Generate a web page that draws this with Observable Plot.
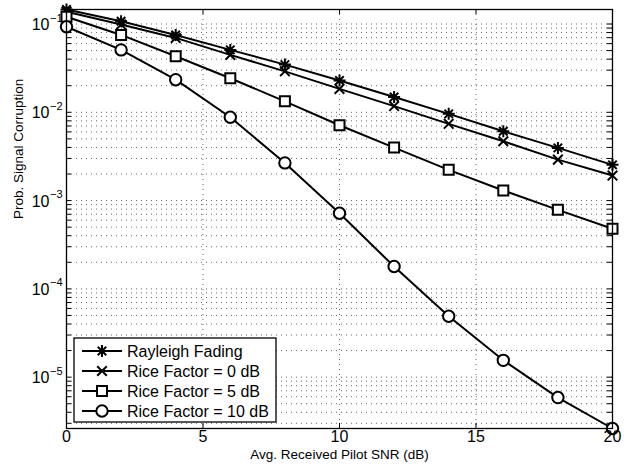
<!DOCTYPE html>
<html><head><meta charset="utf-8">
<script src="https://cdn.jsdelivr.net/npm/d3@7"></script>
<script src="https://cdn.jsdelivr.net/npm/@observablehq/plot@0.6"></script>
<style>
body{margin:0;background:#fff;}
#chart{width:624px;height:468px;}
</style></head><body><div id="chart"></div>
<script>
const snr = [0, 2, 4, 6, 8, 10, 12, 14, 16, 18, 20];
const rayleigh = [0.146, 0.1075, 0.0752, 0.0509, 0.0347, 0.0229, 0.0149, 0.0096, 0.0061, 0.00395, 0.00254];
const rice0 = [0.138, 0.0985, 0.0696, 0.0447, 0.0291, 0.0184, 0.01175, 0.0074, 0.0047, 0.00291, 0.00192];
const rice5 = [0.121, 0.0752, 0.0431, 0.0243, 0.01332, 0.00713, 0.00398, 0.00223, 0.0013, 0.000785, 0.000479];
const rice10 = [0.093, 0.0509, 0.0234, 0.00878, 0.00267, 0.000718, 0.000179, 4.9e-5, 1.55e-5, 5.87e-6, 2.62e-6];
const seriesNames = ["Rayleigh Fading", "Rice Factor = 0 dB", "Rice Factor = 5 dB", "Rice Factor = 10 dB"];
const xTicks = [0, 5, 10, 15, 20];
const xGrid = [5, 10, 15];
const yExponents = [-5, -4, -3, -2, -1];
const xLabel = "Avg. Received Pilot SNR (dB)";
const yLabel = "Prob. Signal Corruption";

const W = 624, H = 468, mL = 66, mR = 12, mT = 9, mB = 40;
const plotW = W - mL - mR, plotH = H - mT - mB;

// MATLAB-like marker shapes (size -> half-extent r)
const rOf = size => Math.sqrt(size / Math.PI);
const symAsterisk = {draw(c, s) {const r = rOf(s), d = r * Math.SQRT1_2;
  c.moveTo(-r, 0); c.lineTo(r, 0); c.moveTo(0, -r); c.lineTo(0, r);
  c.moveTo(-d, -d); c.lineTo(d, d); c.moveTo(-d, d); c.lineTo(d, -d);}};
const symTimes = {draw(c, s) {const r = rOf(s);
  c.moveTo(-r, -r); c.lineTo(r, r); c.moveTo(-r, r); c.lineTo(r, -r);}};
const symSquare = {draw(c, s) {const r = rOf(s);
  c.moveTo(-r, -r); c.lineTo(r, -r); c.lineTo(r, r); c.lineTo(-r, r); c.closePath();}};
const symCircle = {draw(c, s) {const r = rOf(s);
  c.moveTo(r, 0); c.arc(0, 0, r, 0, 2 * Math.PI);}};

const seriesValues = [rayleigh, rice0, rice5, rice10];
const symbols = [symAsterisk, symTimes, symSquare, symCircle];
const radii = [6, 4.8, 5, 5.7];
const fills = ["none", "none", "white", "white"];

const series = seriesNames.map((name, i) => snr.map((x, j) => ({name, x, p: seriesValues[i][j]})));
const allVals = seriesValues.flat();
const yDomain = d3.extent(allVals);

const yMajor = yExponents.map(e => Math.pow(10, e));
const yMinor = [];
for (let e = -6; e <= -1; e++) for (let k = 2; k <= 9; k++) {
  const v = k * Math.pow(10, e);
  if (v >= yDomain[0] && v <= yDomain[1]) yMinor.push(v);
}
const yAll = yMajor.concat(yMinor);

const gridStyle = {stroke: "#000", strokeOpacity: 0.6, strokeWidth: 1, strokeDasharray: "1,4"};

const marks = [
  Plot.ruleY(yAll, {y: d => d, ...gridStyle}),
  Plot.ruleX(xGrid, {x: d => d, ...gridStyle}),
  Plot.tickY(yAll, {y: d => d, insetRight: plotW - 5, stroke: "black"}),
  Plot.tickY(yAll, {y: d => d, insetLeft: plotW - 5, stroke: "black"}),
  Plot.tickX(xTicks, {x: d => d, insetTop: plotH - 5, stroke: "black"}),
  Plot.tickX(xTicks, {x: d => d, insetBottom: plotH - 5, stroke: "black"}),
];
series.forEach((rows) => {
  marks.push(Plot.line(rows, {x: "x", y: "p", stroke: "black", strokeWidth: 2}));
});
series.forEach((rows, i) => {
  marks.push(Plot.dot(rows, {x: "x", y: "p", symbol: () => symbols[i], r: radii[i], stroke: "black", strokeWidth: 2, fill: fills[i]}));
});
marks.push(
  Plot.frame({stroke: "black", strokeWidth: 1.3}),
  Plot.text(yMajor, {y: d => d, frameAnchor: "left", text: () => "10", textAnchor: "end", dx: -17, dy: 1, fontSize: 16, fill: "black"}),
  Plot.text(yMajor, {y: d => d, frameAnchor: "left", text: d => "\u2212" + Math.round(-Math.log10(d)), textAnchor: "start", dx: -16.5, dy: -6, fontSize: 11, fill: "black"}),
  Plot.text(xTicks, {x: d => d, frameAnchor: "bottom", text: d => String(d), dy: 13, fontSize: 16, fill: "black"}),
  Plot.text([xLabel], {frameAnchor: "bottom", text: d => d, dy: 30, fontSize: 13.5, fill: "black"}),
  Plot.text([yLabel], {frameAnchor: "left", text: d => d, dx: -48, rotate: -90, fontSize: 13.5, fill: "black"})
);

const chart = Plot.plot({
  width: W, height: H,
  marginLeft: mL, marginRight: mR, marginTop: mT, marginBottom: mB,
  x: {domain: [0, 20], axis: null},
  y: {type: "log", domain: yDomain, axis: null},
  style: {fontFamily: "'Liberation Sans', Arial, Helvetica, sans-serif", background: "white", overflow: "visible"},
  marks
});
document.getElementById("chart").appendChild(chart);

// Legend (inside the axes, lower-left), MATLAB style
const svg = d3.select(chart);
const lg = svg.append("g").attr("font-family", "'Liberation Sans', Arial, sans-serif").attr("text-anchor", "start");
const box = {x: 74, y: 338, w: 202, h: 84};
lg.append("rect").attr("x", box.x).attr("y", box.y).attr("width", box.w).attr("height", box.h)
  .attr("fill", "white").attr("stroke", "black").attr("stroke-width", 1.3);
seriesNames.forEach((name, i) => {
  const cy = box.y + 13 + 20 * i;
  lg.append("line").attr("x1", box.x + 8).attr("x2", box.x + 48).attr("y1", cy).attr("y2", cy)
    .attr("stroke", "black").attr("stroke-width", 2);
  lg.append("path").attr("d", d3.symbol(symbols[i], Math.PI * radii[i] * radii[i])())
    .attr("transform", `translate(${box.x + 28},${cy})`)
    .attr("fill", fills[i]).attr("stroke", "black").attr("stroke-width", 2);
  lg.append("text").attr("x", box.x + 53).attr("y", cy).attr("dy", "0.35em")
    .attr("text-anchor", "start").attr("font-size", 16).attr("fill", "black").text(name);
});
</script></body></html>
